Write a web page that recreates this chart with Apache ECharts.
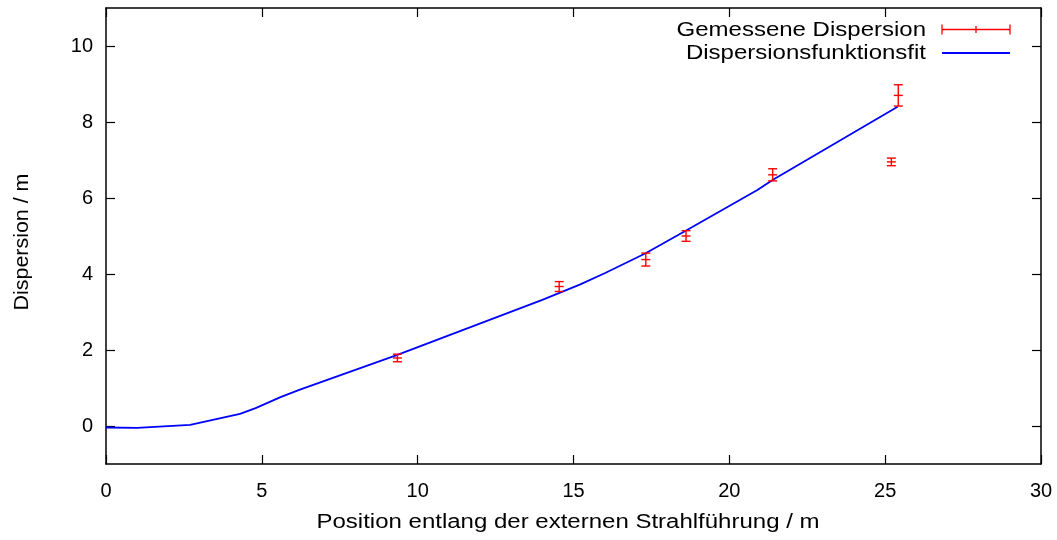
<!DOCTYPE html>
<html>
<head>
<meta charset="utf-8">
<script src="https://cdn.jsdelivr.net/npm/echarts@6/dist/echarts.min.js"></script>
<style>
html,body{margin:0;padding:0;background:#fff;}
#c{width:1057px;height:540px;}
</style>
</head>
<body>
<div id="c"></div>
<script>
// Measured dispersion (position / m, dispersion / m, error / m)
const measX = [9.35, 14.54, 17.32, 18.61, 21.39, 25.20, 25.42];
const measY = [1.79, 3.67, 4.38, 5.00, 6.61, 6.95, 8.70];
const measErr = [0.10, 0.13, 0.17, 0.14, 0.16, 0.10, 0.28];

// Dispersion function fit
const fitX = [0, 1.0, 2.7, 4.3, 4.8, 5.6, 6.2, 9.35, 14.0, 15.2, 16.0, 17.3, 18.6, 20.9, 21.4, 25.4];
const fitY = [-0.04, -0.05, 0.03, 0.32, 0.47, 0.76, 0.95, 1.87, 3.32, 3.72, 4.02, 4.54, 5.14, 6.21, 6.48, 8.40];

const xTicks = [0, 5, 10, 15, 20, 25, 30];
const yTicks = [0, 2, 4, 6, 8, 10];

const seriesNames = ['Gemessene Dispersion', 'Dispersionsfunktionsfit'];
const xName = 'Position entlang der externen Strahlführung / m';
const yName = 'Dispersion / m';

const FONT = 'Liberation Sans';
const RED = '#ff0000';
const BLUE = '#0000ff';
const chart = echarts.init(document.getElementById('c'), null, {renderer: 'canvas'});

const errData = measX.map((x, i) => [x, measY[i], measErr[i]]);
const fitData = fitX.map((x, i) => [x, fitY[i]]);

const axisCommon = {
  type: 'value',
  axisLine: {show: true, onZero: false, lineStyle: {color: '#000', width: 1.5}},
  axisTick: {show: true, inside: true, length: 9, lineStyle: {color: '#000', width: 1.2}},
  splitLine: {show: false}
};

const txt = (extra) => ({
  type: 'text',
  silent: true,
  ...extra,
  style: Object.assign({fill: '#000', fontFamily: FONT, fontSize: 20}, extra.style)
});

chart.setOption({
  animation: false,
  backgroundColor: '#fff',
  textStyle: {fontFamily: FONT},
  grid: {left: 106, right: 16, top: 8, bottom: 76, containLabel: false},
  xAxis: [
    Object.assign({}, axisCommon, {
      position: 'bottom', min: 0, max: 30, interval: 5,
      axisLabel: {show: true, margin: 17, fontFamily: FONT, fontSize: 20, color: '#000',
                  customValues: xTicks},
      axisTick: Object.assign({}, axisCommon.axisTick, {customValues: xTicks})
    }),
    Object.assign({}, axisCommon, {
      position: 'top', min: 0, max: 30, interval: 5,
      axisLabel: {show: false, customValues: xTicks},
      axisTick: Object.assign({}, axisCommon.axisTick, {customValues: xTicks})
    })
  ],
  yAxis: [
    Object.assign({}, axisCommon, {
      position: 'left', min: -1, max: 11,
      axisLabel: {show: true, margin: 13, fontFamily: FONT, fontSize: 20, color: '#000', customValues: yTicks},
      axisTick: Object.assign({}, axisCommon.axisTick, {customValues: yTicks})
    }),
    Object.assign({}, axisCommon, {
      position: 'right', min: -1, max: 11,
      axisLabel: {show: false, customValues: yTicks},
      axisTick: Object.assign({}, axisCommon.axisTick, {customValues: yTicks})
    })
  ],
  graphic: [
    // axis titles
    txt({x: 568, y: 522, scaleX: 1.2, style: {text: xName, align: 'center', verticalAlign: 'middle'}}),
    txt({x: 22, y: 242, rotation: Math.PI / 2, scaleX: 1.07, style: {text: yName, align: 'center', verticalAlign: 'middle'}}),
    // legend
    txt({x: 926, y: 30, scaleX: 1.2, style: {text: seriesNames[0], align: 'right', verticalAlign: 'middle'}}),
    txt({x: 926, y: 53, scaleX: 1.2, style: {text: seriesNames[1], align: 'right', verticalAlign: 'middle'}}),
    {type: 'group', silent: true, children: [
      {type: 'line', shape: {x1: 942, y1: 29.5, x2: 1010, y2: 29.5}, style: {stroke: RED, lineWidth: 1.3}},
      {type: 'line', shape: {x1: 942, y1: 24.5, x2: 942, y2: 34.5}, style: {stroke: RED, lineWidth: 1.3}},
      {type: 'line', shape: {x1: 1010, y1: 24.5, x2: 1010, y2: 34.5}, style: {stroke: RED, lineWidth: 1.3}},
      {type: 'line', shape: {x1: 976, y1: 26, x2: 976, y2: 33}, style: {stroke: RED, lineWidth: 1.3}},
      {type: 'line', shape: {x1: 942, y1: 53, x2: 1010, y2: 53}, style: {stroke: BLUE, lineWidth: 1.8}}
    ]}
  ],
  series: [
    {
      name: seriesNames[0],
      type: 'custom',
      xAxisIndex: 0, yAxisIndex: 0,
      itemStyle: {color: RED},
      data: errData,
      z: 3,
      renderItem: function (params, api) {
        const x = api.value(0), y = api.value(1), e = api.value(2);
        const t = api.coord([x, y + e]);
        const b = api.coord([x, y - e]);
        const c = api.coord([x, y]);
        const hw = 4.5;
        const st = {stroke: RED, lineWidth: 1.4};
        return {
          type: 'group',
          children: [
            {type: 'line', shape: {x1: t[0], y1: t[1], x2: b[0], y2: b[1]}, style: st},
            {type: 'line', shape: {x1: t[0] - hw, y1: t[1], x2: t[0] + hw, y2: t[1]}, style: st},
            {type: 'line', shape: {x1: b[0] - hw, y1: b[1], x2: b[0] + hw, y2: b[1]}, style: st},
            {type: 'line', shape: {x1: c[0] - hw, y1: c[1], x2: c[0] + hw, y2: c[1]}, style: st}
          ]
        };
      }
    },
    {
      name: seriesNames[1],
      type: 'line',
      xAxisIndex: 0, yAxisIndex: 0,
      showSymbol: false,
      symbol: 'none',
      color: BLUE,
      lineStyle: {color: BLUE, width: 1.8},
      data: fitData,
      z: 2
    }
  ]
});
</script>
</body>
</html>
